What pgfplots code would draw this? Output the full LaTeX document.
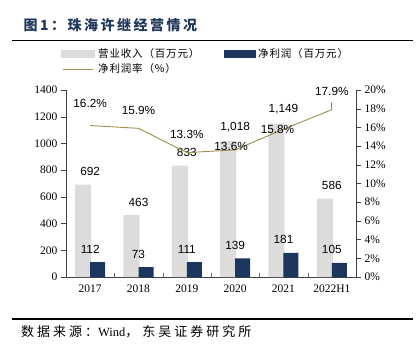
\documentclass[border=0pt]{standalone}
\usepackage{fontspec}
\usepackage{pgfplots}
\pgfplotsset{compat=1.18}
\setmainfont{Liberation Serif}
\newfontfamily\cjk{Noto Sans CJK SC}
\newfontfamily\sansf{Liberation Sans}
\newfontfamily\serifW{Liberation Serif}
\definecolor{bargray}{RGB}{220,220,220}
\definecolor{navy}{RGB}{28,54,93}
\definecolor{olive}{RGB}{160,140,80}
\definecolor{titleblue}{RGB}{31,56,92}
\begin{document}
\begin{tikzpicture}
\useasboundingbox (0pt,0pt) rectangle (420pt,-355pt);
% title
\node[anchor=west, text=titleblue, font=\cjk\bfseries\fontsize{14}{16}\selectfont\addfontfeature{LetterSpace=18}] at (20pt,-25pt) {图1：珠海许继经营情况};
\draw[line width=1.3pt] (12pt,-40.5pt) -- (413pt,-40.5pt);
% legend
\fill[bargray] (61pt,-50pt) rectangle (95pt,-58pt);
\node[anchor=west, inner sep=1pt, font=\cjk\fontsize{10.5}{12}\selectfont\addfontfeature{LetterSpace=8}] at (97pt,-54pt) {营业收入（百万元）};
\fill[navy] (224pt,-50pt) rectangle (256pt,-58pt);
\node[anchor=west, inner sep=1pt, font=\cjk\fontsize{10.5}{12}\selectfont\addfontfeature{LetterSpace=8}] at (257pt,-54pt) {净利润（百万元）};
\draw[olive, line width=0.9pt] (63pt,-69pt) -- (93pt,-69pt);
\node[anchor=west, inner sep=1pt, font=\cjk\fontsize{10.5}{12}\selectfont\addfontfeature{LetterSpace=8}] at (97pt,-69pt) {净利润率（\%）};
% bottom
\draw[line width=1.3pt] (12pt,-319pt) -- (413pt,-319pt);
\node[anchor=west, inner sep=1pt, font=\cjk\fontsize{13}{15}\selectfont\addfontfeature{LetterSpace=23}] at (20pt,-332pt) {数据来源：{\serifW\fontsize{12.5}{14}\selectfont Wind}，\hspace{4pt}东吴证券研究所};

\begin{axis}[
  at={(66pt,-277pt)}, anchor=south west, scale only axis,
  width=290pt, height=187pt,
  xmin=-0.5, xmax=5.5, ymin=0, ymax=1400,
  ytick={0,200,...,1400},
  axis x line*=bottom, axis y line*=left,
  axis line style={black!75, line width=0.6pt},
  xtick={0,...,5},
  xticklabels={2017,2018,2019,2020,2021,2022H1},
  xticklabel style={yshift=-4pt},
  major x tick style={draw=none},
  minor xtick={0.5,1.5,2.5,3.5,4.5},
  minor x tick style={black!60},
  minor tick length=4pt,
  xtick align=inside,
  ytick align=outside,
  major tick length=5pt,
  ytick style={black!75},
  tick label style={font=\fontsize{11.5}{13}\selectfont},
  /pgf/number format/assume math mode=true,
  /pgf/number format/1000 sep={},
  clip=false,
  point meta=explicit symbolic,
  every node near coord/.append style={font=\sansf\fontsize{11.8}{13}\selectfont, yshift=5.5pt, text=black},
]
\addplot[ybar, bar width=16pt, bar shift=-7pt, fill=bargray, draw=none, nodes near coords]
  coordinates {(0,692)[692] (1,463)[463] (2,833)[833] (3,1018)[{1,018}] (4,1149)[{1,149}] (5,586)[586]};
\addplot[ybar, bar width=15pt, bar shift=7.5pt, fill=navy, draw=none, nodes near coords]
  coordinates {(0,112)[112] (1,73)[73] (2,111)[111] (3,139)[139] (4,181)[181] (5,105)[105]};
\end{axis}

\begin{axis}[
  at={(66pt,-277pt)}, anchor=south west, scale only axis,
  width=290pt, height=187pt,
  xmin=-0.5, xmax=5.5, ymin=0, ymax=20,
  ytick={0,2,...,20},
  axis x line=none, axis y line*=right,
  axis line style={black!75, line width=0.6pt},
  ytick align=outside,
  major tick length=5pt,
  ytick style={black!75},
  yticklabel={\pgfmathprintnumber{\tick}\%},
  tick label style={font=\fontsize{11.5}{13}\selectfont},
  /pgf/number format/assume math mode=true,
  clip=false,
]
\addplot[olive, line width=0.9pt, mark=none] coordinates {(0,16.2) (1,15.9) (2,13.3) (3,13.6) (4,15.8) (5,17.9)};
\begin{scope}[font=\sansf\fontsize{11.8}{13}\selectfont]
\node[yshift=22pt] at (axis cs:0,16.2) {16.2\%};
\node[yshift=18pt] at (axis cs:1,15.9) {15.9\%};
\node[yshift=18pt] at (axis cs:2,13.3) {13.3\%};
\node[xshift=-4pt, yshift=3pt] at (axis cs:3,13.6) {13.6\%};
\node[xshift=-6pt, yshift=0pt] at (axis cs:4,15.8) {15.8\%};
\node[yshift=18pt] at (axis cs:5,17.9) {17.9\%};
\end{scope}
\draw[black!80, line width=0.5pt] (axis cs:5,17.9) -- ++(-0.5pt,7pt);
\end{axis}
\end{tikzpicture}
\end{document}
